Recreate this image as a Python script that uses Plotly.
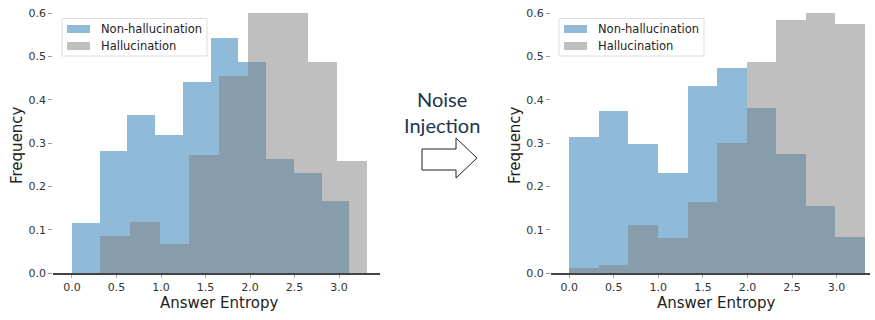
import plotly.graph_objects as go

# ---------------- data ----------------
left_nonhal_edges = [0.0, 0.312, 0.623, 0.935, 1.246, 1.558, 1.869, 2.181, 2.492, 2.804, 3.116]
left_nonhal_freq = [0.115, 0.281, 0.364, 0.319, 0.440, 0.543, 0.486, 0.263, 0.231, 0.166]
left_hal_edges = [0.318, 0.651, 0.983, 1.316, 1.648, 1.981, 2.313, 2.646, 2.978, 3.311]
left_hal_freq = [0.086, 0.119, 0.067, 0.272, 0.454, 0.600, 0.600, 0.488, 0.259]

right_edges = [0.0, 0.332, 0.663, 0.995, 1.327, 1.658, 1.990, 2.322, 2.653, 2.985, 3.317]
right_nonhal_freq = [0.314, 0.375, 0.298, 0.232, 0.431, 0.473, 0.381, 0.276, 0.154, 0.083]
right_hal_freq = [0.013, 0.018, 0.112, 0.082, 0.164, 0.300, 0.487, 0.583, 0.600, 0.575]

x_ticks = [0.0, 0.5, 1.0, 1.5, 2.0, 2.5, 3.0]
y_ticks = [0.0, 0.1, 0.2, 0.3, 0.4, 0.5, 0.6]
series_names = ["Non-hallucination", "Hallucination"]
x_title = "Answer Entropy"
y_title = "Frequency"
middle_text = "Noise<br>Injection"

# ---------------- styling ----------------
W, H = 875, 320
BLUE = "rgba(31,119,180,0.5)"
GREY = "rgba(128,128,128,0.5)"
TICK_FONT = dict(family="DejaVu Sans", size=11, color="#333333")


def px(x):
    return x / W


def py(y):
    return 1 - y / H


def centers_widths(edges):
    c = [(a + b) / 2 for a, b in zip(edges[:-1], edges[1:])]
    w = [(b - a) for a, b in zip(edges[:-1], edges[1:])]
    return c, w


fig = go.Figure()

panels = [
    ("x", "y", left_nonhal_edges, left_nonhal_freq, left_hal_edges, left_hal_freq),
    ("x2", "y2", right_edges, right_nonhal_freq, right_edges, right_hal_freq),
]
for xa, ya, e1, f1, e2, f2 in panels:
    c1, w1 = centers_widths(e1)
    c2, w2 = centers_widths(e2)
    fig.add_trace(go.Bar(x=c1, y=f1, width=w1, marker=dict(color=BLUE, line=dict(width=0)),
                         name=series_names[0], xaxis=xa, yaxis=ya, showlegend=False))
    fig.add_trace(go.Bar(x=c2, y=f2, width=w2, marker=dict(color=GREY, line=dict(width=0)),
                         name=series_names[1], xaxis=xa, yaxis=ya, showlegend=False))

ydom = [py(273.3), py(13.0)]
xaxis_common = dict(
    tickmode="array", tickvals=x_ticks, ticktext=[f"{v:.1f}" for v in x_ticks],
    ticks="outside", ticklen=3, tickcolor="#aaaaaa", tickwidth=1,
    showline=True, linecolor="#444444", linewidth=1.3,
    showgrid=False, zeroline=False, tickfont=TICK_FONT, automargin=False,
)
yaxis_common = dict(
    tickmode="array", tickvals=y_ticks, ticktext=[f"{v:.1f}" for v in y_ticks],
    ticks="outside", ticklen=4, tickcolor="#999999", tickwidth=1,
    showline=False, showgrid=False, zeroline=False, tickfont=TICK_FONT,
    range=[0, 0.6], domain=ydom, automargin=False,
)

fig.update_layout(
    template="none",
    width=W, height=H,
    margin=dict(l=0, r=0, t=0, b=0, pad=0),
    paper_bgcolor="white", plot_bgcolor="white",
    barmode="overlay", bargap=0,
    xaxis=dict(domain=[px(53.3), px(380)], range=[-0.21, 3.46], anchor="y", **xaxis_common),
    yaxis=dict(anchor="x", **yaxis_common),
    xaxis2=dict(domain=[px(551), px(870)], range=[-0.205, 3.375], anchor="y2", **xaxis_common),
    yaxis2=dict(anchor="x2", **yaxis_common),
    showlegend=False,
)

shapes = []
annotations = []

# axis titles
for cx_title, cx_ytitle in [(219, 17), (716, 515)]:
    annotations.append(dict(text=x_title, x=px(cx_title), y=py(303), xref="paper", yref="paper",
                            showarrow=False, xanchor="center", yanchor="middle",
                            font=dict(family="DejaVu Sans", size=15, color="#222222")))
    annotations.append(dict(text=y_title, x=px(cx_ytitle), y=py(145), xref="paper", yref="paper",
                            showarrow=False, xanchor="center", yanchor="middle", textangle=-90,
                            font=dict(family="DejaVu Sans", size=15, color="#222222")))

# legends (drawn manually to mimic matplotlib style)
for lx in [62, 559]:
    shapes.append(dict(type="rect", xref="paper", yref="paper",
                       x0=px(lx), x1=px(lx + 145), y0=py(56), y1=py(18.5),
                       line=dict(color="#dddddd", width=1), fillcolor="rgba(255,255,255,0.85)",
                       layer="above"))
    for i, (name, col) in enumerate(zip(series_names, [BLUE, GREY])):
        cy = 29 + 17 * i
        shapes.append(dict(type="rect", xref="paper", yref="paper",
                           x0=px(lx + 5), x1=px(lx + 28), y0=py(cy + 4), y1=py(cy - 4),
                           line=dict(width=0), fillcolor=col, layer="above"))
        annotations.append(dict(text=name, x=px(lx + 37), y=py(cy), xref="paper", yref="paper",
                                showarrow=False, xanchor="left", yanchor="middle",
                                font=dict(family="DejaVu Sans", size=11.5, color="#222222")))

# middle text and hollow arrow
annotations.append(dict(text=middle_text, x=px(442), y=py(112), xref="paper", yref="paper",
                        showarrow=False, xanchor="center", yanchor="middle", align="center",
                        font=dict(family="Lato", size=20, color="#1b3550")))
pts = [(422, 149), (456, 149), (456, 138), (477, 158), (456, 178), (456, 170), (422, 170)]
path = "M " + " L ".join(f"{px(x)},{py(y)}" for x, y in pts) + " Z"
shapes.append(dict(type="path", xref="paper", yref="paper", path=path,
                   line=dict(color="#222222", width=1), fillcolor="white"))

fig.update_layout(shapes=shapes, annotations=annotations)

fig.write_html("out.html",
               config={"displayModeBar": False, "staticPlot": True},
               post_script="document.body.style.margin='0';document.body.style.overflow='hidden';")
